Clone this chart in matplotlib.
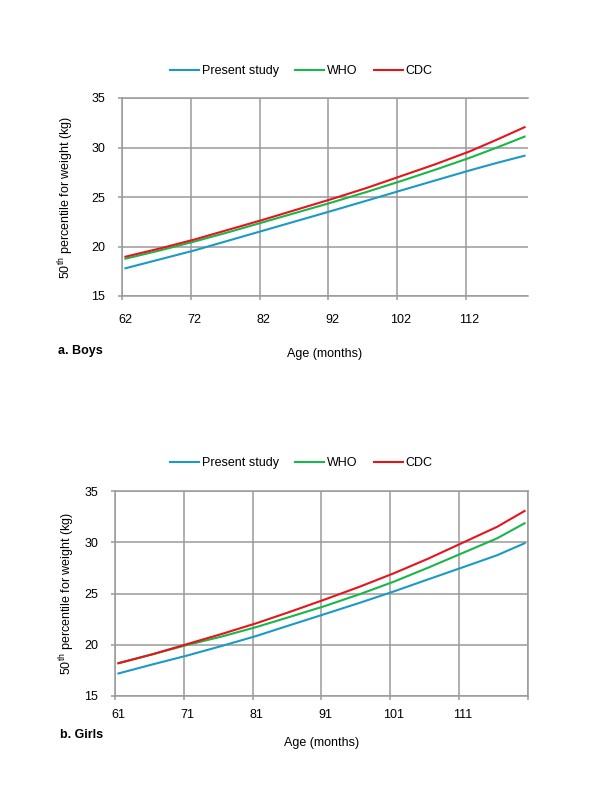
import matplotlib
matplotlib.use('Agg')
import matplotlib.pyplot as plt
import numpy as np

plt.rcParams['font.family'] = ['Liberation Sans', 'DejaVu Sans']
plt.rcParams['font.size'] = 9

# Boys: age in months and 50th percentile weight (kg)
boys_age = [62, 67, 72, 77, 82, 87, 92, 97, 102, 107, 112, 116, 120]
boys_present = [17.8, 18.7, 19.6, 20.6, 21.6, 22.6, 23.6, 24.62, 25.65, 26.67, 27.68, 28.45, 29.17]
boys_who = [18.77, 19.6, 20.5, 21.45, 22.45, 23.45, 24.45, 25.5, 26.6, 27.75, 28.95, 30.0, 31.1]
boys_cdc = [18.97, 19.8, 20.7, 21.7, 22.7, 23.75, 24.8, 25.9, 27.1, 28.3, 29.6, 30.8, 32.05]
boys_ticks = [62, 72, 82, 92, 102, 112]

# Girls
girls_age = [61, 66, 71, 76, 81, 86, 91, 96, 101, 106, 111, 116, 120]
girls_present = [17.2, 18.09, 18.95, 19.88, 20.85, 21.93, 23.0, 24.08, 25.2, 26.38, 27.55, 28.73, 29.9]
girls_who = [18.2, 19.08, 19.98, 20.8, 21.72, 22.74, 23.78, 24.92, 26.15, 27.52, 28.95, 30.38, 31.85]
girls_cdc = [18.2, 19.08, 20.07, 21.05, 22.09, 23.23, 24.42, 25.65, 26.97, 28.4, 29.95, 31.5, 33.05]
girls_ticks = [61, 71, 81, 91, 101, 111]

series_names = ['Present study', 'WHO', 'CDC']
series_colors = ['#1b9ac6', '#19b64a', '#e8141c']
GRID = '#9a9a9a'


def draw_panel(ax, age, present, who, cdc, ticks, right_edge_line, legend_y,
               ylab_x, xlab_y, xpad):
    for vals, name, col in zip([present, who, cdc], series_names, series_colors):
        ax.plot(age, vals, color=col, lw=1.5, label=name, zorder=3)

    lo = ticks[0] - 0.5
    hi = age[-1] + 0.5
    ax.set_xlim(lo, hi)
    ax.set_ylim(15, 35)

    # boundaries carry the tick marks and grid, labels sit on the category centres
    bounds = list(np.arange(lo, hi + 0.01, 10))
    ax.set_xticks(bounds)
    ax.set_xticklabels([])
    ax.set_xticks(ticks, minor=True)
    ax.set_xticklabels([str(t) for t in ticks], minor=True)
    ax.tick_params(axis='x', which='major', length=3, color=GRID, width=1.1)
    ax.tick_params(axis='x', which='minor', length=0, pad=xpad)
    ax.set_yticks([15, 20, 25, 30, 35])
    ax.tick_params(axis='y', length=3, color=GRID, width=1.1, pad=9)
    ax.grid(True, which='major', color=GRID, lw=1.1, zorder=0)

    for s in ['left', 'bottom', 'top', 'right']:
        ax.spines[s].set_color(GRID)
        ax.spines[s].set_linewidth(1.1)
    ax.spines['right'].set_visible(right_edge_line)

    ax.set_ylabel('50$^{\\mathregular{th}}$ percentile for weight (kg)')
    ax.yaxis.set_label_coords(ylab_x, 0.5)
    ax.set_xlabel('Age (months)')
    ax.xaxis.set_label_coords(0.5, xlab_y)

    ax.legend(loc='center', bbox_to_anchor=(0.5025, legend_y), bbox_transform=ax.figure.transFigure,
              ncol=3, frameon=False, handlelength=2.3, handletextpad=0.25, columnspacing=1.3)
    return ax


fig = plt.figure(figsize=(6, 8), dpi=100)

ax1 = fig.add_axes([122 / 600, 1 - 296 / 800, 406 / 600, 198 / 800])
draw_panel(ax1, boys_age, boys_present, boys_who, boys_cdc, boys_ticks, False,
           1 - 71 / 800, -0.113, -0.263, 13)
fig.text(58 / 600, 1 - 351 / 800, 'a. Boys', fontweight='bold', ha='left', va='center')

ax2 = fig.add_axes([115 / 600, 1 - 696 / 800, 413 / 600, 205 / 800])
draw_panel(ax2, girls_age, girls_present, girls_who, girls_cdc, girls_ticks, True,
           1 - 463 / 800, -0.092, -0.2, 9)
fig.text(60 / 600, 1 - 735 / 800, 'b. Girls', fontweight='bold', ha='left', va='center')

fig.savefig('out.png', dpi=100)
